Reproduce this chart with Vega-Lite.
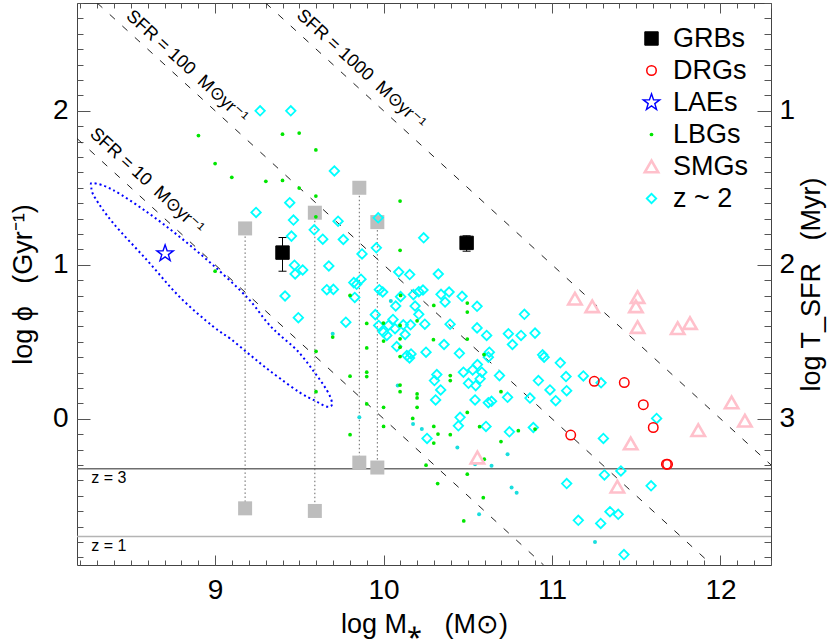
{
  "$schema": "https://vega.github.io/schema/vega-lite/v6.json",
  "width": 694,
  "height": 562,
  "autosize": {"type": "none"},
  "padding": {"left": 77, "top": 3, "right": 59, "bottom": 79},
  "background": "white",
  "config": {
    "view": {"stroke": "#444", "strokeWidth": 1},
    "font": "Liberation Sans",
    "axis": {"grid": false, "domain": false, "tickColor": "#555", "tickWidth": 1, "labelColor": "#000", "titleColor": "#000", "labelFont": "Liberation Sans", "titleFont": "Liberation Sans", "titleFontWeight": "normal", "labelFontSize": 28, "titleFontSize": 27},
    "legend": {"orient": "top-right", "offset": 22, "padding": 0, "labelFontSize": 27, "labelFont": "Liberation Sans", "labelColor": "#000", "rowPadding": 4, "labelOffset": 8}
  },
  "datasets": {
    "zlines": [{"label": "z = 3", "y": -0.325}, {"label": "z = 1", "y": -0.765}],
    "sfrlines": [
      {"sfr": "10", "x": 8.18, "y": 1.82}, {"sfr": "10", "x": 10.95, "y": -0.95},
      {"sfr": "100", "x": 8.3, "y": 2.7}, {"sfr": "100", "x": 11.95, "y": -0.95},
      {"sfr": "1000", "x": 9.3, "y": 2.7}, {"sfr": "1000", "x": 12.3, "y": -0.3}
    ],
    "sfrlabels": [
      {"label": "SFR = 10\u00a0\u00a0M⊙yr⁻¹", "x": 8.594, "y": 1.542},
      {"label": "SFR = 100\u00a0\u00a0M⊙yr⁻¹", "x": 8.832, "y": 2.285},
      {"label": "SFR = 1000\u00a0\u00a0M⊙yr⁻¹", "x": 9.866, "y": 2.268}
    ],
    "ellipse": [
      {"i": 1, "x": 8.276, "y": 1.531}, {"i": 2, "x": 8.395, "y": 1.485}, {"i": 3, "x": 8.596, "y": 1.342},
      {"i": 4, "x": 8.792, "y": 1.179}, {"i": 5, "x": 8.988, "y": 0.997}, {"i": 6, "x": 9.19, "y": 0.788},
      {"i": 7, "x": 9.309, "y": 0.625}, {"i": 8, "x": 9.386, "y": 0.541}, {"i": 9, "x": 9.487, "y": 0.443},
      {"i": 10, "x": 9.582, "y": 0.313}, {"i": 11, "x": 9.665, "y": 0.182}, {"i": 12, "x": 9.694, "y": 0.098},
      {"i": 13, "x": 9.665, "y": 0.078}, {"i": 14, "x": 9.593, "y": 0.117}, {"i": 15, "x": 9.504, "y": 0.169},
      {"i": 16, "x": 9.386, "y": 0.261}, {"i": 17, "x": 9.285, "y": 0.345}, {"i": 18, "x": 9.19, "y": 0.43},
      {"i": 19, "x": 9.089, "y": 0.521}, {"i": 20, "x": 8.988, "y": 0.599}, {"i": 21, "x": 8.792, "y": 0.788},
      {"i": 22, "x": 8.596, "y": 1.029}, {"i": 23, "x": 8.395, "y": 1.27}, {"i": 24, "x": 8.288, "y": 1.433},
      {"i": 25, "x": 8.265, "y": 1.5}
    ],
    "hosts": [
      {"x": 9.178, "hi": 1.236, "lo": -0.582},
      {"x": 9.592, "hi": 1.338, "lo": -0.599},
      {"x": 9.856, "hi": 1.5, "lo": -0.285},
      {"x": 9.963, "hi": 1.277, "lo": -0.317}
    ],
    "grberr": [{"x": 9.4, "lo": 0.958, "hi": 1.177}, {"x": 10.493, "lo": 1.088, "hi": 1.188}],
    "small": [
      {"x": 10.043, "y": 0.764}, {"x": 9.698, "y": 0.552}, {"x": 10.175, "y": -0.035}, {"x": 10.736, "y": -0.23},
      {"x": 10.641, "y": -0.306}, {"x": 10.543, "y": -0.295}, {"x": 10.76, "y": -0.447}, {"x": 10.79, "y": -0.48},
      {"x": 10.567, "y": -0.621}, {"x": 10.084, "y": 0.215}, {"x": 10.227, "y": -0.067}, {"x": 10.438, "y": -0.187},
      {"x": 9.856, "y": 0.009}, {"x": 11.255, "y": -0.801}
    ],
    "pts": [
      {"type": "z ~ 2", "x": 9.267, "y": 2.0}, {"type": "z ~ 2", "x": 9.449, "y": 2.0}, {"type": "z ~ 2", "x": 9.708, "y": 1.609},
      {"type": "z ~ 2", "x": 9.443, "y": 1.403}, {"type": "z ~ 2", "x": 9.243, "y": 1.34}, {"type": "z ~ 2", "x": 9.465, "y": 1.29},
      {"type": "z ~ 2", "x": 9.73, "y": 1.283}, {"type": "z ~ 2", "x": 9.588, "y": 1.227}, {"type": "z ~ 2", "x": 9.453, "y": 1.186},
      {"type": "z ~ 2", "x": 9.639, "y": 1.166}, {"type": "z ~ 2", "x": 9.761, "y": 1.164}, {"type": "z ~ 2", "x": 9.957, "y": 1.11},
      {"type": "z ~ 2", "x": 9.872, "y": 1.07}, {"type": "z ~ 2", "x": 9.471, "y": 0.997}, {"type": "z ~ 2", "x": 9.52, "y": 0.966},
      {"type": "z ~ 2", "x": 9.475, "y": 0.94}, {"type": "z ~ 2", "x": 9.675, "y": 0.992}, {"type": "z ~ 2", "x": 9.663, "y": 0.838},
      {"type": "z ~ 2", "x": 9.702, "y": 0.84}, {"type": "z ~ 2", "x": 9.823, "y": 0.884}, {"type": "z ~ 2", "x": 9.84, "y": 0.873},
      {"type": "z ~ 2", "x": 9.866, "y": 0.906}, {"type": "z ~ 2", "x": 9.829, "y": 0.788}, {"type": "z ~ 2", "x": 9.415, "y": 0.797},
      {"type": "z ~ 2", "x": 9.494, "y": 0.656}, {"type": "z ~ 2", "x": 9.776, "y": 0.627}, {"type": "z ~ 2", "x": 9.951, "y": 0.676},
      {"type": "z ~ 2", "x": 9.971, "y": 0.606}, {"type": "z ~ 2", "x": 9.968, "y": 1.305}, {"type": "z ~ 2", "x": 10.238, "y": 1.175},
      {"type": "z ~ 2", "x": 10.09, "y": 0.953}, {"type": "z ~ 2", "x": 10.155, "y": 0.936}, {"type": "z ~ 2", "x": 10.325, "y": 0.94},
      {"type": "z ~ 2", "x": 9.975, "y": 0.838}, {"type": "z ~ 2", "x": 9.995, "y": 0.823}, {"type": "z ~ 2", "x": 10.209, "y": 0.825},
      {"type": "z ~ 2", "x": 10.234, "y": 0.836}, {"type": "z ~ 2", "x": 10.177, "y": 0.806}, {"type": "z ~ 2", "x": 10.341, "y": 0.808},
      {"type": "z ~ 2", "x": 10.389, "y": 0.823}, {"type": "z ~ 2", "x": 10.466, "y": 0.795}, {"type": "z ~ 2", "x": 10.365, "y": 0.758},
      {"type": "z ~ 2", "x": 10.555, "y": 0.73}, {"type": "z ~ 2", "x": 10.072, "y": 0.732}, {"type": "z ~ 2", "x": 10.101, "y": 0.793},
      {"type": "z ~ 2", "x": 10.187, "y": 0.732}, {"type": "z ~ 2", "x": 10.209, "y": 0.678}, {"type": "z ~ 2", "x": 10.836, "y": 0.678},
      {"type": "z ~ 2", "x": 10.056, "y": 0.645}, {"type": "z ~ 2", "x": 10.245, "y": 0.614}, {"type": "z ~ 2", "x": 10.395, "y": 0.614},
      {"type": "z ~ 2", "x": 10.117, "y": 0.61}, {"type": "z ~ 2", "x": 10.16, "y": 0.61}, {"type": "z ~ 2", "x": 10.555, "y": 0.59},
      {"type": "z ~ 2", "x": 10.029, "y": 0.606}, {"type": "z ~ 2", "x": 9.999, "y": 0.562}, {"type": "z ~ 2", "x": 10.019, "y": 0.541},
      {"type": "z ~ 2", "x": 10.068, "y": 0.585}, {"type": "z ~ 2", "x": 10.128, "y": 0.547}, {"type": "z ~ 2", "x": 10.612, "y": 0.541},
      {"type": "z ~ 2", "x": 10.741, "y": 0.552}, {"type": "z ~ 2", "x": 10.816, "y": 0.541}, {"type": "z ~ 2", "x": 10.899, "y": 0.556},
      {"type": "z ~ 2", "x": 10.765, "y": 0.482}, {"type": "z ~ 2", "x": 10.078, "y": 0.469}, {"type": "z ~ 2", "x": 10.138, "y": 0.41},
      {"type": "z ~ 2", "x": 10.154, "y": 0.395}, {"type": "z ~ 2", "x": 10.163, "y": 0.421}, {"type": "z ~ 2", "x": 10.252, "y": 0.432},
      {"type": "z ~ 2", "x": 10.359, "y": 0.482}, {"type": "z ~ 2", "x": 10.45, "y": 0.425}, {"type": "z ~ 2", "x": 10.628, "y": 0.432},
      {"type": "z ~ 2", "x": 10.622, "y": 0.4}, {"type": "z ~ 2", "x": 10.944, "y": 0.415}, {"type": "z ~ 2", "x": 10.953, "y": 0.4},
      {"type": "z ~ 2", "x": 11.049, "y": 0.363}, {"type": "z ~ 2", "x": 11.083, "y": 0.274}, {"type": "z ~ 2", "x": 10.316, "y": 0.287},
      {"type": "z ~ 2", "x": 10.302, "y": 0.248}, {"type": "z ~ 2", "x": 10.474, "y": 0.302}, {"type": "z ~ 2", "x": 10.529, "y": 0.317},
      {"type": "z ~ 2", "x": 10.557, "y": 0.352}, {"type": "z ~ 2", "x": 10.583, "y": 0.302}, {"type": "z ~ 2", "x": 10.573, "y": 0.259},
      {"type": "z ~ 2", "x": 10.504, "y": 0.23}, {"type": "z ~ 2", "x": 10.547, "y": 0.215}, {"type": "z ~ 2", "x": 10.688, "y": 0.28},
      {"type": "z ~ 2", "x": 10.919, "y": 0.248}, {"type": "z ~ 2", "x": 10.988, "y": 0.187}, {"type": "z ~ 2", "x": 11.087, "y": 0.182},
      {"type": "z ~ 2", "x": 10.339, "y": 0.187}, {"type": "z ~ 2", "x": 10.309, "y": 0.122}, {"type": "z ~ 2", "x": 10.543, "y": 0.122},
      {"type": "z ~ 2", "x": 10.622, "y": 0.104}, {"type": "z ~ 2", "x": 10.641, "y": 0.113}, {"type": "z ~ 2", "x": 10.736, "y": 0.139},
      {"type": "z ~ 2", "x": 10.869, "y": 0.134}, {"type": "z ~ 2", "x": 11.022, "y": 0.117}, {"type": "z ~ 2", "x": 10.454, "y": 0.009},
      {"type": "z ~ 2", "x": 10.444, "y": -0.046}, {"type": "z ~ 2", "x": 10.608, "y": -0.05}, {"type": "z ~ 2", "x": 10.747, "y": -0.085},
      {"type": "z ~ 2", "x": 10.889, "y": -0.057}, {"type": "z ~ 2", "x": 10.258, "y": -0.128}, {"type": "z ~ 2", "x": 11.087, "y": -0.421},
      {"type": "z ~ 2", "x": 11.186, "y": 0.278}, {"type": "z ~ 2", "x": 11.291, "y": 0.233}, {"type": "z ~ 2", "x": 11.621, "y": 0.002},
      {"type": "z ~ 2", "x": 11.305, "y": -0.128}, {"type": "z ~ 2", "x": 11.409, "y": -0.339}, {"type": "z ~ 2", "x": 11.311, "y": -0.365},
      {"type": "z ~ 2", "x": 11.588, "y": -0.436}, {"type": "z ~ 2", "x": 11.344, "y": -0.604}, {"type": "z ~ 2", "x": 11.393, "y": -0.621},
      {"type": "z ~ 2", "x": 11.156, "y": -0.66}, {"type": "z ~ 2", "x": 11.289, "y": -0.68}, {"type": "z ~ 2", "x": 11.427, "y": -0.882},
      {"type": "LBGs", "x": 8.901, "y": 1.839}, {"type": "LBGs", "x": 9.0, "y": 1.657}, {"type": "LBGs", "x": 9.099, "y": 1.568},
      {"type": "LBGs", "x": 9.301, "y": 1.542}, {"type": "LBGs", "x": 9.4, "y": 1.848}, {"type": "LBGs", "x": 9.499, "y": 1.855},
      {"type": "LBGs", "x": 9.598, "y": 1.746}, {"type": "LBGs", "x": 9.4, "y": 1.548}, {"type": "LBGs", "x": 9.499, "y": 1.498},
      {"type": "LBGs", "x": 9.598, "y": 1.446}, {"type": "LBGs", "x": 9.598, "y": 1.311}, {"type": "LBGs", "x": 9.0, "y": 0.958},
      {"type": "LBGs", "x": 9.801, "y": 0.801}, {"type": "LBGs", "x": 9.9, "y": 0.619}, {"type": "LBGs", "x": 10.098, "y": 1.414},
      {"type": "LBGs", "x": 10.098, "y": 1.094}, {"type": "LBGs", "x": 10.101, "y": 0.801}, {"type": "LBGs", "x": 10.298, "y": 0.736},
      {"type": "LBGs", "x": 10.497, "y": 0.751}, {"type": "LBGs", "x": 10.497, "y": 0.693}, {"type": "LBGs", "x": 10.199, "y": 0.636},
      {"type": "LBGs", "x": 9.999, "y": 0.621}, {"type": "LBGs", "x": 10.098, "y": 0.606}, {"type": "LBGs", "x": 10.0, "y": 0.504},
      {"type": "LBGs", "x": 10.098, "y": 0.519}, {"type": "LBGs", "x": 10.296, "y": 0.513}, {"type": "LBGs", "x": 10.497, "y": 0.517},
      {"type": "LBGs", "x": 10.098, "y": 0.465}, {"type": "LBGs", "x": 10.098, "y": 0.404}, {"type": "LBGs", "x": 10.596, "y": 0.417},
      {"type": "LBGs", "x": 10.396, "y": 0.28}, {"type": "LBGs", "x": 10.396, "y": 0.248}, {"type": "LBGs", "x": 10.098, "y": 0.219},
      {"type": "LBGs", "x": 10.098, "y": 0.176}, {"type": "LBGs", "x": 10.199, "y": 0.161}, {"type": "LBGs", "x": 10.199, "y": 0.135},
      {"type": "LBGs", "x": 10.697, "y": 0.176}, {"type": "LBGs", "x": 10.0, "y": 0.074}, {"type": "LBGs", "x": 10.199, "y": 0.074},
      {"type": "LBGs", "x": 10.497, "y": 0.041}, {"type": "LBGs", "x": 10.173, "y": 0.002}, {"type": "LBGs", "x": 10.0, "y": -0.05},
      {"type": "LBGs", "x": 10.298, "y": -0.05}, {"type": "LBGs", "x": 10.57, "y": -0.052}, {"type": "LBGs", "x": 10.8, "y": -0.078},
      {"type": "LBGs", "x": 10.899, "y": -0.067}, {"type": "LBGs", "x": 10.323, "y": -0.1}, {"type": "LBGs", "x": 10.396, "y": -0.104},
      {"type": "LBGs", "x": 10.298, "y": -0.158}, {"type": "LBGs", "x": 10.697, "y": -0.148}, {"type": "LBGs", "x": 10.598, "y": -0.263},
      {"type": "LBGs", "x": 10.252, "y": -0.302}, {"type": "LBGs", "x": 10.497, "y": -0.36}, {"type": "LBGs", "x": 10.321, "y": -0.421},
      {"type": "LBGs", "x": 10.592, "y": -0.513}, {"type": "LBGs", "x": 10.476, "y": -0.664}, {"type": "LBGs", "x": 9.698, "y": 0.53},
      {"type": "LBGs", "x": 9.599, "y": 0.438}, {"type": "LBGs", "x": 9.9, "y": 0.46}, {"type": "LBGs", "x": 9.801, "y": 0.276},
      {"type": "LBGs", "x": 9.9, "y": 0.302}, {"type": "LBGs", "x": 9.9, "y": 0.274}, {"type": "LBGs", "x": 9.599, "y": 0.176},
      {"type": "LBGs", "x": 9.9, "y": 0.096}, {"type": "LBGs", "x": 9.801, "y": -0.104},
      {"type": "SMGs", "x": 11.136, "y": 0.78}, {"type": "SMGs", "x": 11.239, "y": 0.73}, {"type": "SMGs", "x": 11.508, "y": 0.79},
      {"type": "SMGs", "x": 11.498, "y": 0.73}, {"type": "SMGs", "x": 11.508, "y": 0.595}, {"type": "SMGs", "x": 11.746, "y": 0.588},
      {"type": "SMGs", "x": 11.819, "y": 0.621}, {"type": "SMGs", "x": 12.066, "y": 0.106}, {"type": "SMGs", "x": 12.145, "y": -0.013},
      {"type": "SMGs", "x": 11.868, "y": -0.074}, {"type": "SMGs", "x": 11.467, "y": -0.161}, {"type": "SMGs", "x": 11.388, "y": -0.441},
      {"type": "SMGs", "x": 10.557, "y": -0.252},
      {"type": "DRGs", "x": 11.251, "y": 0.243}, {"type": "DRGs", "x": 11.429, "y": 0.235}, {"type": "DRGs", "x": 11.542, "y": 0.091},
      {"type": "DRGs", "x": 11.601, "y": -0.057}, {"type": "DRGs", "x": 11.111, "y": -0.106}, {"type": "DRGs", "x": 11.679, "y": -0.295},
      {"type": "DRGs", "x": 11.686, "y": -0.296},
      {"type": "LAEs", "x": 8.703, "y": 1.073},
      {"type": "GRBs", "x": 9.4, "y": 1.079}, {"type": "GRBs", "x": 10.493, "y": 1.142}
    ]
  },
  "resolve": {"axis": {"x": "independent", "y": "independent"}},
  "layer": [
    {
      "data": {"name": "zlines"},
      "mark": {"type": "rule", "strokeWidth": 1.3},
      "encoding": {
        "y": {"field": "y", "type": "quantitative", "scale": {"domain": [-0.95, 2.7], "zero": false, "nice": false}, "axis": null},
        "color": {"field": "label", "type": "nominal", "scale": {"domain": ["z = 3", "z = 1"], "range": ["#6e6e6e", "#b4b4b4"]}, "legend": null}
      }
    },
    {
      "data": {"name": "zlines"},
      "mark": {"type": "text", "align": "left", "baseline": "middle", "dy": 9, "fontSize": 16, "font": "Liberation Sans", "color": "#000"},
      "encoding": {
        "x": {"datum": 8.265, "type": "quantitative", "scale": {"domain": [8.18, 12.3], "zero": false, "nice": false}, "axis": null},
        "y": {"field": "y", "type": "quantitative", "axis": null},
        "text": {"field": "label"}
      }
    },
    {
      "data": {"name": "sfrlines"},
      "mark": {"type": "line", "color": "#222", "strokeWidth": 1, "strokeDash": [7, 10], "clip": true},
      "encoding": {
        "x": {"field": "x", "type": "quantitative", "scale": {"domain": [8.18, 12.3], "zero": false, "nice": false},
              "axis": {"orient": "bottom", "values": [9, 10, 11, 12], "format": "d", "tickSize": -10, "labelPadding": 21, "title": "log M⁎\u00a0\u00a0\u00a0(M⊙)", "titlePadding": 7}},
        "y": {"field": "y", "type": "quantitative", "scale": {"domain": [-0.95, 2.7], "zero": false, "nice": false},
              "axis": {"orient": "left", "values": [0, 1, 2], "format": "d", "tickSize": -13, "labelPadding": 22, "title": "log ϕ\u00a0\u00a0\u00a0(Gyr⁻¹)", "titlePadding": 15}},
        "detail": {"field": "sfr", "type": "nominal"}
      }
    },
    {
      "data": {"name": "sfrlabels"},
      "mark": {"type": "text", "angle": 42.44, "align": "center", "baseline": "middle", "fontSize": 18, "font": "Liberation Sans", "color": "#000"},
      "encoding": {
        "x": {"field": "x", "type": "quantitative",
              "axis": {"orient": "bottom", "values": [8.2,8.3,8.4,8.5,8.6,8.7,8.8,8.9,9.0,9.1,9.2,9.3,9.4,9.5,9.6,9.7,9.8,9.9,10.0,10.1,10.2,10.3,10.4,10.5,10.6,10.7,10.8,10.9,11.0,11.1,11.2,11.3,11.4,11.5,11.6,11.7,11.8,11.9,12.0,12.1,12.2,12.3], "tickSize": -5, "labels": false, "title": null}},
        "y": {"field": "y", "type": "quantitative",
              "axis": {"orient": "left", "values": [-0.9,-0.8,-0.7,-0.6,-0.5,-0.4,-0.3,-0.2,-0.1,0,0.1,0.2,0.3,0.4,0.5,0.6,0.7,0.8,0.9,1.0,1.1,1.2,1.3,1.4,1.5,1.6,1.7,1.8,1.9,2.0,2.1,2.2,2.3,2.4,2.5,2.6,2.7], "tickSize": -6, "labels": false, "title": null}},
        "text": {"field": "label"}
      }
    },
    {
      "data": {"name": "ellipse"},
      "mark": {"type": "line", "color": "blue", "strokeWidth": 2, "strokeDash": [2, 3], "interpolate": "cardinal-closed"},
      "encoding": {
        "x": {"field": "x", "type": "quantitative", "axis": null},
        "y": {"field": "y", "type": "quantitative", "axis": null},
        "order": {"field": "i", "type": "quantitative"}
      }
    },
    {
      "data": {"name": "hosts"},
      "mark": {"type": "rule", "color": "#666", "strokeWidth": 1, "strokeDash": [1.5, 2.5]},
      "encoding": {
        "x": {"field": "x", "type": "quantitative", "axis": null},
        "y": {"field": "hi", "type": "quantitative", "axis": null},
        "y2": {"field": "lo"}
      }
    },
    {
      "data": {"name": "hosts"},
      "mark": {"type": "point", "shape": "square", "filled": true, "color": "#bdbdbd", "size": 196, "opacity": 1},
      "encoding": {
        "x": {"field": "x", "type": "quantitative",
              "axis": {"orient": "top", "values": [8.2,8.3,8.4,8.5,8.6,8.7,8.8,8.9,9.0,9.1,9.2,9.3,9.4,9.5,9.6,9.7,9.8,9.9,10.0,10.1,10.2,10.3,10.4,10.5,10.6,10.7,10.8,10.9,11.0,11.1,11.2,11.3,11.4,11.5,11.6,11.7,11.8,11.9,12.0,12.1,12.2,12.3], "tickSize": -5, "labels": false, "title": null}},
        "y": {"field": "hi", "type": "quantitative",
              "axis": {"orient": "right", "values": [-0.9,-0.8,-0.7,-0.6,-0.5,-0.4,-0.3,-0.2,-0.1,0,0.1,0.2,0.3,0.4,0.5,0.6,0.7,0.8,0.9,1.0,1.1,1.2,1.3,1.4,1.5,1.6,1.7,1.8,1.9,2.0,2.1,2.2,2.3,2.4,2.5,2.6,2.7], "tickSize": -7, "labels": false, "title": null}}
      }
    },
    {
      "data": {"name": "hosts"},
      "mark": {"type": "point", "shape": "square", "filled": true, "color": "#bdbdbd", "size": 196, "opacity": 1},
      "encoding": {
        "x": {"field": "x", "type": "quantitative", "axis": null},
        "y": {"field": "lo", "type": "quantitative", "axis": null}
      }
    },
    {
      "data": {"name": "small"},
      "mark": {"type": "point", "shape": "circle", "filled": true, "color": "#19dede", "size": 16, "opacity": 1},
      "encoding": {
        "x": {"field": "x", "type": "quantitative", "axis": null},
        "y": {"field": "y", "type": "quantitative", "axis": null}
      }
    },
    {
      "data": {"name": "grberr"},
      "mark": {"type": "rule", "color": "#000", "strokeWidth": 1},
      "encoding": {
        "x": {"field": "x", "type": "quantitative", "axis": null},
        "y": {"field": "lo", "type": "quantitative", "axis": null},
        "y2": {"field": "hi"}
      }
    },
    {
      "data": {"name": "grberr"},
      "mark": {"type": "tick", "orient": "horizontal", "color": "#000", "size": 8, "thickness": 1, "opacity": 1},
      "encoding": {
        "x": {"field": "x", "type": "quantitative", "axis": null},
        "y": {"field": "lo", "type": "quantitative", "axis": null}
      }
    },
    {
      "data": {"name": "grberr"},
      "mark": {"type": "tick", "orient": "horizontal", "color": "#000", "size": 8, "thickness": 1, "opacity": 1},
      "encoding": {
        "x": {"field": "x", "type": "quantitative", "axis": null},
        "y": {"field": "hi", "type": "quantitative", "axis": null}
      }
    },
    {
      "data": {"name": "pts"},
      "mark": {"type": "point", "opacity": 1},
      "encoding": {
        "x": {"field": "x", "type": "quantitative",
              "axis": {"orient": "top", "values": [9, 10, 11, 12], "tickSize": -10, "labels": false, "title": null}},
        "y": {"field": "y", "type": "quantitative",
              "axis": {"orient": "right", "values": [0, 1, 2], "tickSize": -14, "labelPadding": 22, "labelExpr": "'' + (3 - datum.value)", "title": "log T_SFR\u00a0\u00a0\u00a0(Myr)", "titleAngle": -90, "titleBaseline": "top", "titlePadding": 4}},
        "shape": {"field": "type", "type": "nominal", "title": null,
                  "scale": {"domain": ["GRBs", "DRGs", "LAEs", "LBGs", "SMGs", "z ~ 2"],
                            "range": ["square", "circle", "M0,-1L0.235,-0.324L0.951,-0.309L0.38,0.124L0.588,0.809L0,0.4L-0.588,0.809L-0.38,0.124L-0.951,-0.309L-0.235,-0.324Z", "circle", "triangle-up", "diamond"]}},
        "fill": {"field": "type", "type": "nominal", "title": null,
                 "scale": {"domain": ["GRBs", "DRGs", "LAEs", "LBGs", "SMGs", "z ~ 2"],
                           "range": ["#000000", "transparent", "transparent", "#00e600", "transparent", "transparent"]}},
        "stroke": {"field": "type", "type": "nominal", "title": null,
                   "scale": {"domain": ["GRBs", "DRGs", "LAEs", "LBGs", "SMGs", "z ~ 2"],
                             "range": ["#000000", "#ff0000", "#0000ff", "#00e600", "#ffc0cb", "#00ffff"]}},
        "size": {"field": "type", "type": "nominal", "title": null,
                 "scale": {"type": "ordinal", "domain": ["GRBs", "DRGs", "LAEs", "LBGs", "SMGs", "z ~ 2"],
                           "range": [180, 90, 300, 14, 180, 90]}},
        "strokeWidth": {"field": "type", "type": "nominal", "title": null,
                        "scale": {"type": "ordinal", "domain": ["GRBs", "DRGs", "LAEs", "LBGs", "SMGs", "z ~ 2"],
                                  "range": [1, 1.5, 1.4, 0, 2.6, 1.8]}}
      }
    }
  ]
}
